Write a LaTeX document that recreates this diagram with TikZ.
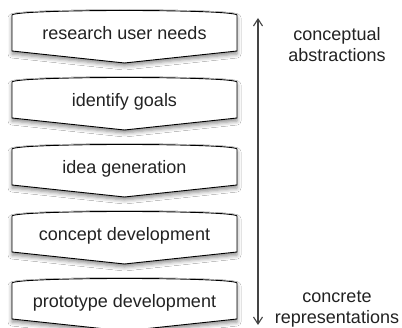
\documentclass[tikz,border=0pt]{standalone}
\usepackage{fontspec}
\setmainfont{Liberation Sans}
\usetikzlibrary{arrows.meta,shadows.blur}
\definecolor{inkgray}{HTML}{222222}
\definecolor{axisgray}{HTML}{444444}
\tikzset{
  stageline/.style={draw=black, line width=0.9pt, fill=white, line join=miter,
    blur shadow={shadow xshift=0pt, shadow yshift=-3pt, shadow blur radius=4pt, shadow opacity=45}},
  stagetext/.style={anchor=base, text=inkgray, font=\fontsize{18}{21}\selectfont, inner sep=0pt},
  sidetext/.style={align=center, text=inkgray, font=\fontsize{18}{21}\selectfont, inner sep=0pt},
  pics/stage/.style={code={
    \path[stageline] (-112.5,0) .. controls (-108.5,-6) and (108.5,-6) .. (112.5,0)
      -- (112.5,36) -- (0,48) -- (-112.5,36) -- cycle;
    \node[stagetext] (-label) at (0,25) {#1};
  }},
  axisarrow/.style={draw=axisgray, line width=1.1pt,
    {Straight Barb[length=7pt,width=9pt]}-{Straight Barb[length=7pt,width=9pt]}}
}
\begin{document}
\begin{tikzpicture}[x=1pt, y=-1pt]
  \useasboundingbox[fill=white] (0,0) rectangle (402,328);
  % process stages, top to bottom
  \pic (s1) at (124.5,15)  {stage={research user needs}};
  \pic (s2) at (124.5,82)  {stage={identify goals}};
  \pic (s3) at (124.5,149) {stage={idea generation}};
  \pic (s4) at (124.5,216) {stage={concept development}};
  \pic (s5) at (124.5,283) {stage={prototype development}};
  % abstraction axis
  \coordinate (axistop) at (258,18);
  \coordinate (axisbot) at (258,325);
  \draw[axisarrow] (axistop) -- (axisbot);
  \node[sidetext] (abstract) at (337,45) {conceptual\\abstractions};
  \node[sidetext] (concrete) at (337,309) {concrete\\representations};
\end{tikzpicture}
\end{document}
